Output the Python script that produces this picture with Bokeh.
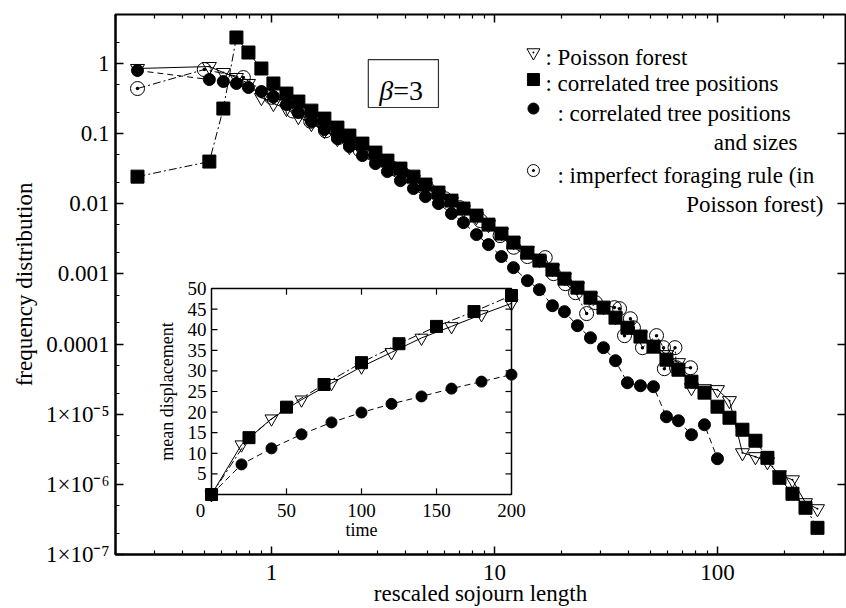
import math
from bokeh.plotting import figure
from bokeh.models import FixedTicker, LogAxis, Range1d, LinearScale, Label
from bokeh.embed import file_html
from bokeh.resources import INLINE
from bokeh.core.properties import value

# ---------------- data ----------------
sojourn_bins = [0.251, 0.527, 0.609, 0.697, 0.789, 0.902, 1.021, 1.168, 1.321, 1.511,
                1.728, 1.977, 2.237, 2.559, 2.927, 3.313, 3.789, 4.334, 4.906, 5.611,
                6.418, 7.264, 8.309, 9.404, 10.75, 12.17, 14.06, 15.91, 18.20, 20.60,
                23.56, 26.95, 30.83, 34.89, 39.48, 45.16, 51.64, 59.06, 66.84, 76.45,
                87.44, 100.0, 113.2, 129.4, 148.0, 167.5, 189.6, 216.9, 248.1, 280.8]

poisson_freq = [0.849, 0.906, 0.744, 0.631, 0.519, 0.327, 0.269, 0.228, 0.175, 0.139,
                0.111, 0.0851, 0.0655, 0.0537, 0.0427, 0.0351, 0.0279, 0.0221, 0.0176, 0.01353,
                0.01075, 0.00826, 0.00656, 0.00505, 0.00388, 0.00289, 0.00215, 0.00160, 0.00119, 0.000885,
                0.000659, 0.000475, 0.000342, 0.000246, 0.000177, 0.000132, 9.8e-5, 7.06e-5, 5.43e-5, 2.39e-5,
                2.31e-5, 2.24e-5, 1.56e-5, 2.82e-6, 2.48e-6, 2.10e-6, 1.37e-6, 1.16e-6, 5.47e-7, 4.49e-7]

corr_pos_freq = [0.0244, 0.040, 0.228, 2.35, 1.436, 0.849, 0.519, 0.373, 0.287, 0.213,
                 0.164, 0.122, 0.094, 0.0722, 0.0537, 0.0413, 0.0318, 0.0244, 0.0188, 0.01445,
                 0.0111, 0.00855, 0.00679, 0.00505, 0.00376, 0.00280, 0.00201, 0.00155, 0.00115, 0.000857,
                 0.000638, 0.000459, 0.000331, 0.000238, 0.000171, 0.000128, 9.19e-5, 5.99e-5, 4.31e-5, 2.91e-5,
                 2.03e-5, 1.28e-5, 8.91e-6, 6.01e-6, 4.19e-6, 2.39e-6, 1.24e-6, 7.34e-7, 4.64e-7, 2.40e-7]

corr_size_len = sojourn_bins[:42]
corr_size_freq = [0.795, 0.591, 0.554, 0.519, 0.455, 0.399, 0.338, 0.260, 0.200, 0.149,
                  0.1144, 0.0851, 0.0655, 0.0487, 0.0374, 0.0288, 0.0214, 0.0165, 0.01267, 0.01007,
                  0.00725, 0.00539, 0.00364, 0.00262, 0.00177, 0.00123, 0.000802, 0.000597, 0.000353, 0.000290,
                  0.000183, 0.000123, 8.89e-5, 5.80e-5, 2.81e-5, 2.55e-5, 2.47e-5, 9.20e-6, 8.07e-6, 5.10e-6,
                  7.08e-6, 2.32e-6]

imperfect_len = [0.251, 0.50, 0.749, 1.0, 1.25, 1.5, 1.75, 2.0, 2.5, 3.0,
                 3.5, 4.0, 5.0, 6.0, 7.0, 8.66, 10.6, 12.2, 14.06, 16.9,
                 18.4, 20.8, 23.1, 25.9, 28.4, 34.5, 36.4, 38.3, 40.7, 42.0,
                 46.1, 53.3, 57.3, 57.8, 64.5, 65.5, 75.7]
imperfect_freq = [0.440, 0.821, 0.631, 0.33, 0.21, 0.15, 0.11, 0.088, 0.058, 0.042,
                  0.032, 0.025, 0.0165, 0.0118, 0.0088, 0.00576, 0.00352, 0.0024, 0.00177, 0.00171,
                  0.00101, 0.000727, 0.000541, 0.000272, 0.000390, 0.000331, 0.000320, 0.000132, 0.000230, 0.000171,
                  8.89e-5, 0.000132, 8.89e-5, 4.46e-5, 8.89e-5, 4.60e-5, 4.60e-5]

# inset: mean displacement vs time
inset_time_poisson = [0, 20, 40, 60, 80, 100, 120, 140, 160, 180, 200]
inset_disp_poisson = [0, 12.1, 18.4, 23.0, 27.0, 31.0, 34.5, 38.0, 40.8, 43.7, 46.4]
inset_time_corr = [0, 25, 50, 75, 100, 125, 150, 175, 200]
inset_disp_corr = [0, 13.8, 21.2, 26.7, 32.0, 36.6, 40.8, 44.4, 48.3]
inset_time_size = [0, 20, 40, 60, 80, 100, 120, 140, 160, 180, 200]
inset_disp_size = [0, 7.3, 11.2, 14.6, 17.5, 19.9, 22.0, 23.8, 25.7, 27.4, 29.1]

# ticks
x_tick_values = [1, 10, 100]
x_tick_labels = ["1", "10", "100"]
x_minor_values = [0.2, 0.3, 0.4, 0.5, 0.6, 0.7, 0.8, 0.9,
                  2, 3, 4, 5, 6, 7, 8, 9,
                  20, 30, 40, 50, 60, 70, 80, 90, 200, 300]
y_tick_values = [1e-7, 1e-6, 1e-5, 1e-4, 1e-3, 1e-2, 1e-1, 1]
y_tick_labels = ["1×10⁻⁷", "1×10⁻⁶", "1×10⁻⁵", "0.0001", "0.001", "0.01", "0.1", "1"]
y_minor_values = [2e-7, 5e-7, 2e-6, 5e-6, 2e-5, 5e-5, 2e-4, 5e-4,
                  2e-3, 5e-3, 2e-2, 5e-2, 0.2, 0.5, 2]
inset_x_ticks = [0, 50, 100, 150, 200]
inset_x_labels = ["0", "50", "100", "150", "200"]
inset_y_ticks = [5, 10, 15, 20, 25, 30, 35, 40, 45, 50]
inset_y_labels = ["5", "10", "15", "20", "25", "30", "35", "40", "45", "50"]

legend_texts = [": Poisson forest", ": correlated tree positions", ": correlated tree positions",
                "and sizes", ": imperfect foraging rule (in", "Poisson forest)"]

FONT = "Liberation Serif"

# ---------------- figure ----------------
p = figure(width=846, height=608, x_axis_type="log", y_axis_type="log",
           x_range=Range1d(0.2, 375), y_range=Range1d(1e-7, 5.0),
           output_backend="svg", toolbar_location=None,
           min_border_left=115, min_border_right=1, min_border_top=14, min_border_bottom=54)
p.xgrid.visible = False
p.ygrid.visible = False
p.outline_line_color = "black"
p.outline_line_width = 2
p.background_fill_color = "white"
p.border_fill_color = "white"

def style_axis(ax, fs="23px"):
    ax.axis_line_width = 2
    ax.axis_line_color = "black"
    ax.major_tick_in = 8
    ax.major_tick_out = 0
    ax.minor_tick_in = 4
    ax.minor_tick_out = 0
    ax.major_tick_line_width = 1.5
    ax.minor_tick_line_width = 1.2
    ax.major_tick_line_color = "black"
    ax.minor_tick_line_color = "black"
    ax.major_label_text_font = FONT
    ax.major_label_text_font_size = fs
    ax.major_label_text_color = "black"
    ax.axis_label_text_font = FONT
    ax.axis_label_text_font_size = "23px"
    ax.axis_label_text_font_style = "normal"
    ax.axis_label_text_color = "black"

xa = p.xaxis[0]
xa.ticker = FixedTicker(ticks=x_tick_values, minor_ticks=x_minor_values)
xa.major_label_overrides = dict(zip(x_tick_values, x_tick_labels))
style_axis(xa)
xa.axis_label = "rescaled sojourn length"
xa.major_label_standoff = 10
xa.axis_label_standoff = -2
xa.axis_label_text_line_height = 0.6

ya = p.yaxis[0]
ya.ticker = FixedTicker(ticks=y_tick_values, minor_ticks=y_minor_values)
ya.major_label_overrides = dict(zip(y_tick_values, y_tick_labels))
style_axis(ya)
ya.axis_label = "frequency distribution"
ya.major_label_standoff = 6
ya.axis_label_standoff = 6

top_axis = LogAxis(ticker=FixedTicker(ticks=x_tick_values, minor_ticks=x_minor_values))
style_axis(top_axis, fs="0px")
top_axis.major_label_standoff = 0
top_axis.axis_line_color = None
top_axis.major_label_overrides = {v: "" for v in x_tick_values}
p.add_layout(top_axis, "above")

right_axis = LogAxis(ticker=FixedTicker(ticks=y_tick_values, minor_ticks=[]))
style_axis(right_axis, fs="0px")
right_axis.major_label_standoff = 0
right_axis.axis_line_color = None
right_axis.major_label_overrides = {v: "" for v in y_tick_values}
p.add_layout(right_axis, "right")

DASHDOT = "8 3 2 3"
DASH = "6 4"

# Poisson forest (triangles, solid)
p.line(sojourn_bins, poisson_freq, line_color="black", line_width=1)
p.scatter(sojourn_bins, poisson_freq, marker="inverted_triangle", size=14,
          fill_color=None, line_color="black", line_width=1)
p.scatter(sojourn_bins, poisson_freq, marker="circle", size=2, fill_color="black", line_color=None)

# correlated positions and sizes (filled circles, dashed)
p.line(corr_size_len, corr_size_freq, line_color="black", line_width=1, line_dash=DASH)
p.scatter(corr_size_len, corr_size_freq, marker="circle", size=12,
          fill_color="black", line_color="black")

# correlated positions (squares, dash-dot)
p.line(sojourn_bins, corr_pos_freq, line_color="black", line_width=1, line_dash=DASHDOT)
p.scatter(sojourn_bins, corr_pos_freq, marker="square", size=13,
          fill_color="black", line_color="black")

# imperfect foraging rule (open circles with dot, dash-dot)
p.line(imperfect_len, imperfect_freq, line_color="black", line_width=1, line_dash=DASHDOT)
p.scatter(imperfect_len, imperfect_freq, marker="circle_dot", size=14,
          fill_color=None, line_color="black", line_width=1)

# ---------------- legend (manual) ----------------
LX = 14.96
p.scatter([LX], [1.435], marker="inverted_triangle", size=13, fill_color=None, line_color="black")
p.scatter([LX], [1.435], marker="circle", size=2, fill_color="black", line_color=None)
p.scatter([LX], [0.591], marker="square", size=12, fill_color="black", line_color="black")
p.scatter([LX], [0.228], marker="circle", size=11, fill_color="black", line_color="black")
p.scatter([LX], [0.0298], marker="circle_dot", size=12, fill_color=None, line_color="black")

leg_x = [16.93, 16.93, 19.17, 228.4, 19.17, 298.8]
leg_y = [1.218, 0.518, 0.1936, 0.0746, 0.0252, 0.00975]
leg_align = ["left", "left", "left", "right", "left", "right"]
p.text(x=leg_x, y=leg_y, text=legend_texts, text_align=leg_align,
       text_baseline="alphabetic", text_font=value(FONT), text_font_size="23px", text_color="black")

# beta box
p.quad(left=[2.72], right=[5.61], bottom=[0.236], top=[1.14],
       fill_color="white", line_color="#333333", line_width=1.2)
p.add_layout(Label(x=3.52, y=0.412, text="β", text_font=FONT, text_font_size="28px",
                   text_color="black", text_font_style="italic", text_align="right",
                   text_baseline="alphabetic"))
p.add_layout(Label(x=3.52, y=0.412, text="=3", text_font=FONT, text_font_size="28px",
                   text_color="black", text_align="left", text_baseline="alphabetic"))

# ---------------- inset (own linear scales) ----------------
p.extra_x_ranges = {"ix": Range1d(-64.0, 422.67)}
p.extra_x_scales = {"ix": LinearScale()}
p.extra_y_ranges = {"iy": Range1d(-14.56, 116.50)}
p.extra_y_scales = {"iy": LinearScale()}
IK = dict(x_range_name="ix", y_range_name="iy")

p.quad(left=[0], right=[200], bottom=[0], top=[50], fill_color="white",
       line_color="black", line_width=1.5, **IK)
inner_x = inset_x_ticks[1:-1]
p.segment(x0=inner_x, y0=[0] * 3, x1=inner_x, y1=[1.5] * 3, line_color="black", line_width=1.2, **IK)
p.segment(x0=inner_x, y0=[50] * 3, x1=inner_x, y1=[48.5] * 3, line_color="black", line_width=1.2, **IK)
inner_y = inset_y_ticks[:-1]
p.segment(x0=[0] * 9, y0=inner_y, x1=[4] * 9, y1=inner_y, line_color="black", line_width=1.2, **IK)
p.segment(x0=[200] * 9, y0=inner_y, x1=[196] * 9, y1=inner_y, line_color="black", line_width=1.2, **IK)

p.text(x=inset_x_ticks, y=[0] * 5, text=inset_x_labels, text_align="center", text_baseline="top",
       x_offset=[-11, 0, 0, 0, 0], y_offset=9, text_font=value(FONT), text_font_size="19px",
       text_color="black", **IK)
p.text(x=[0] * 10, y=inset_y_ticks, text=inset_y_labels, text_align="right", text_baseline="middle",
       x_offset=-5, text_font=value(FONT), text_font_size="19px", text_color="black", **IK)
p.text(x=[100], y=[0], text=["time"], text_align="center", text_baseline="middle",
       y_offset=35, text_font=value(FONT), text_font_size="18px", text_color="black", **IK)
p.text(x=[0], y=[25], text=["mean displacement"], text_align="center", text_baseline="middle",
       angle=math.pi / 2, x_offset=-44, text_font=value(FONT), text_font_size="18px",
       text_color="black", **IK)

p.line(inset_time_poisson, inset_disp_poisson, line_color="black", line_width=1, **IK)
p.scatter(inset_time_poisson, inset_disp_poisson, marker="inverted_triangle", size=13,
          fill_color=None, line_color="black", **IK)
p.line(inset_time_size, inset_disp_size, line_color="black", line_width=1, line_dash=DASH, **IK)
p.scatter(inset_time_size, inset_disp_size, marker="circle", size=11,
          fill_color="black", line_color="black", **IK)
p.line(inset_time_corr, inset_disp_corr, line_color="black", line_width=1, line_dash=DASHDOT, **IK)
p.scatter(inset_time_corr, inset_disp_corr, marker="square", size=12,
          fill_color="black", line_color="black", **IK)

open("out.html", "w").write(file_html(p, INLINE))
